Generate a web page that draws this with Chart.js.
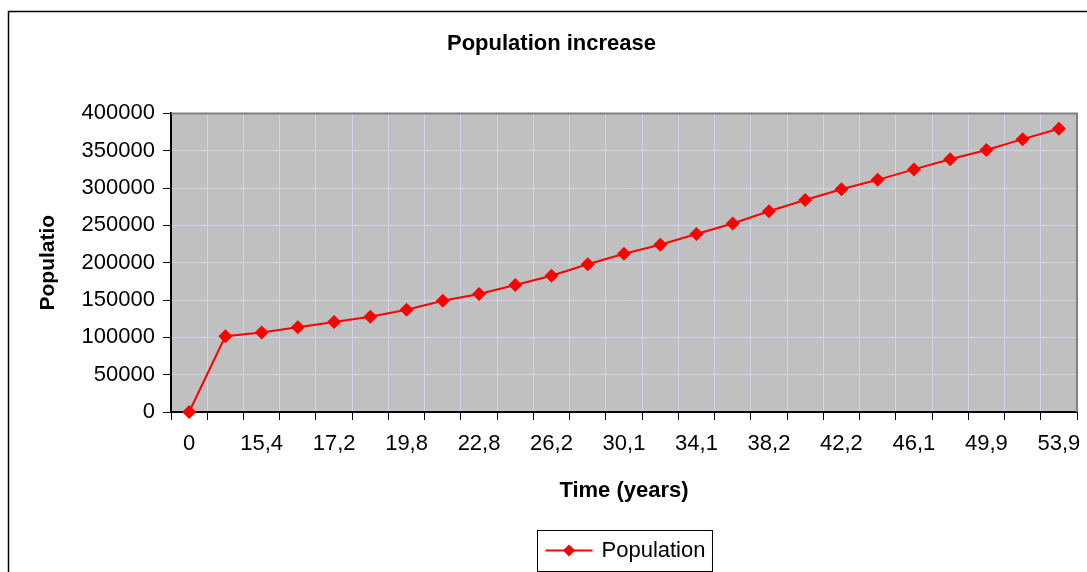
<!DOCTYPE html>
<html>
<head>
<meta charset="utf-8">
<title>Population increase</title>
<script src="https://cdn.jsdelivr.net/npm/chart.js@4.4.1/dist/chart.umd.min.js"></script>
<style>
  html, body { margin: 0; padding: 0; background: #fff; }
  #chart { display: block; }
</style>
</head>
<body>
<canvas id="chart" width="1087" height="572"></canvas>
<script>
// ---------- Datos ----------
// tiempos (años) - solo se muestra uno de cada dos en el eje
var timeLabels = ['0', '14,6', '15,4', '16,3', '17,2', '18,5', '19,8', '21,3', '22,8', '24,5',
    '26,2', '28,1', '30,1', '32,1', '34,1', '36,1', '38,2', '40,2', '42,2', '44,1',
    '46,1', '48,0', '49,9', '51,9', '53,9'];
var populationValues = [0, 101500, 106500, 113500, 120500, 127500, 137000, 149000, 158000, 170000,
    182500, 198000, 212000, 224000, 238500, 252500, 269000, 284000, 298500, 311000,
    325000, 338500, 351000, 365500, 379500];
var yTickValues = [0, 50000, 100000, 150000, 200000, 250000, 300000, 350000, 400000];

var FONT = "'Liberation Sans', Arial, sans-serif";
var GRID = '#d2d2ec';

// ---------- Plugins ----------
// fondo blanco + marco exterior + fondo gris del area de trazado
var fondoPlugin = {
    id: 'fondo',
    beforeDraw: function (chart) {
        var ctx = chart.ctx, a = chart.chartArea;
        ctx.save();
        ctx.fillStyle = '#ffffff';
        ctx.fillRect(0, 0, chart.width, chart.height);
        ctx.strokeStyle = '#000000';
        ctx.lineWidth = 1.5;
        ctx.strokeRect(8.5, 11.5, chart.width + 20, chart.height + 20);
        ctx.fillStyle = '#c0c0c0';
        ctx.fillRect(a.left, a.top, a.right - a.left, a.bottom - a.top);
        ctx.restore();
    },
    beforeDatasetsDraw: function (chart) {
        // borde gris arriba y a la derecha del area
        var ctx = chart.ctx, a = chart.chartArea;
        ctx.save();
        ctx.strokeStyle = '#808080';
        ctx.lineWidth = 2;
        ctx.beginPath();
        ctx.moveTo(a.left, a.top);
        ctx.lineTo(a.right, a.top);
        ctx.lineTo(a.right, a.bottom);
        ctx.stroke();
        ctx.restore();
    }
};

// leyenda con recuadro, estilo Excel
var leyendaPlugin = {
    id: 'leyendaExcel',
    afterDraw: function (chart) {
        var ctx = chart.ctx, a = chart.chartArea;
        var ds = chart.data.datasets[0];
        ctx.save();
        ctx.font = '22px ' + FONT;
        var tw = ctx.measureText(ds.label).width;
        var lineLen = 47, gap = 9, padL = 8, padR = 7;
        var w = padL + lineLen + gap + tw + padR;
        var h = 41;
        var cx = (a.left + a.right) / 2;
        var x0 = Math.round(cx - w / 2) + 0.5;
        var y0 = 530.5;
        ctx.strokeStyle = '#000000';
        ctx.lineWidth = 1;
        ctx.strokeRect(x0, y0, w, h);
        var ly = y0 + 20;
        var mx = x0 + padL + lineLen / 2;
        ctx.strokeStyle = ds.borderColor;
        ctx.lineWidth = 2;
        ctx.beginPath();
        ctx.moveTo(x0 + padL, ly);
        ctx.lineTo(x0 + padL + lineLen, ly);
        ctx.stroke();
        ctx.fillStyle = ds.borderColor;
        ctx.beginPath();
        ctx.moveTo(mx, ly - 6);
        ctx.lineTo(mx + 6, ly);
        ctx.lineTo(mx, ly + 6);
        ctx.lineTo(mx - 6, ly);
        ctx.closePath();
        ctx.fill();
        ctx.fillStyle = '#000000';
        ctx.textBaseline = 'middle';
        ctx.textAlign = 'left';
        ctx.fillText(ds.label, x0 + padL + lineLen + gap, ly);
        ctx.restore();
    }
};

// ---------- Chart ----------
new Chart(document.getElementById('chart'), {
    type: 'line',
    data: {
        labels: timeLabels,
        datasets: [{
            label: 'Population',
            data: populationValues,
            borderColor: '#ff0000',
            backgroundColor: '#ff0000',
            borderWidth: 2,
            pointStyle: 'rectRot',
            pointRadius: 7,
            pointBorderWidth: 0,
            pointBackgroundColor: '#ff0000',
            tension: 0,
            fill: false,
            clip: false
        }]
    },
    options: {
        responsive: false,
        animation: false,
        devicePixelRatio: 1,
        layout: { padding: { left: 26, right: 10, top: 11, bottom: 67 } },
        plugins: {
            legend: { display: false },
            tooltip: { enabled: false },
            title: {
                display: true,
                text: 'Population increase',
                color: '#000000',
                font: { family: FONT, size: 22, weight: 'bold' },
                padding: { top: 20, bottom: 56 }
            }
        },
        scales: {
            x: {
                offset: true,
                grid: { offset: true, color: GRID, tickColor: '#000000', tickLength: 8, lineWidth: 1 },
                border: { color: '#000000', width: 2 },
                ticks: {
                    autoSkip: false,
                    maxRotation: 0,
                    color: '#000000',
                    padding: 11,
                    font: { family: FONT, size: 22 },
                    callback: function (v, i) { return i % 2 === 0 ? timeLabels[i] : ''; }
                },
                title: {
                    display: true,
                    text: 'Time (years)',
                    color: '#000000',
                    font: { family: FONT, size: 22, weight: 'bold' },
                    padding: { top: 0, bottom: 1 }
                },
                afterFit: function (scale) {
                    scale.height = 93;
                    scale.paddingRight = 0;
                }
            },
            y: {
                min: 0,
                max: 400000,
                grid: { color: GRID, tickColor: '#000000', tickLength: 8, lineWidth: 1 },
                border: { color: '#000000', width: 2 },
                afterBuildTicks: function (scale) {
                    scale.ticks = yTickValues.map(function (v) { return { value: v }; });
                },
                ticks: {
                    color: '#000000',
                    padding: 8,
                    font: { family: FONT, size: 22 },
                    callback: function (v) { return String(v); }
                },
                title: {
                    display: true,
                    text: 'Populatio',
                    color: '#000000',
                    font: { family: FONT, size: 21, weight: 'bold' },
                    padding: { top: 10, bottom: 0 }
                },
                afterFit: function (scale) { scale.width = 145; }
            }
        }
    },
    plugins: [fondoPlugin, leyendaPlugin]
});
</script>
</body>
</html>
